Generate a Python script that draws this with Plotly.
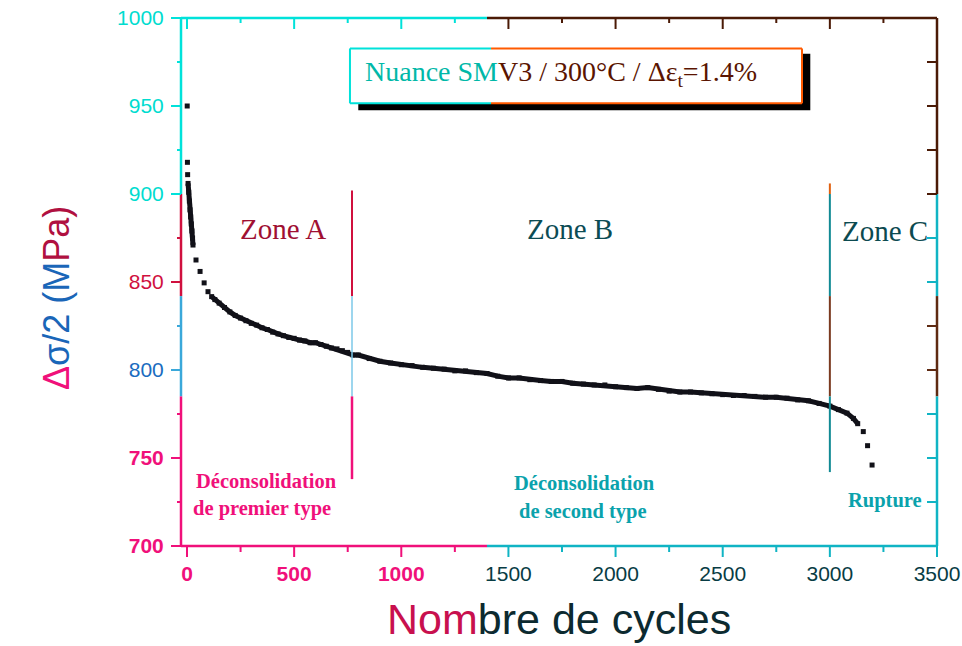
import plotly.graph_objects as go

# ---------------- data ----------------
start_x = [1, 2, 3]
start_y = [950, 918, 911]

early_x = [5, 8, 11, 14, 17, 20, 23, 26, 28]
early_y = [906, 901, 896, 891, 887, 883, 879, 875, 871]

sparse_x = [42, 61, 80, 98]
sparse_y = [862.5, 856, 849.5, 844.5]

main_x = [115, 130, 150, 175, 200, 225, 250, 275, 300, 325, 350, 375, 400, 425, 450,
          475, 500, 525, 550, 575, 600, 625, 650, 675, 700, 725, 750, 775, 800, 850,
          900, 950, 1000, 1050, 1100, 1150, 1200, 1250, 1300, 1350, 1400, 1450, 1500,
          1550, 1600, 1650, 1700, 1750, 1800, 1850, 1900, 1950, 2000, 2050, 2100, 2150,
          2200, 2250, 2300, 2350, 2400, 2450, 2500, 2550, 2600, 2650, 2700, 2750, 2800,
          2850, 2900, 2950, 3000, 3040, 3080, 3110, 3130]
main_y = [841.7, 840, 838, 835.5, 833, 831, 829.5, 828, 826.5, 825.5, 824, 823, 821.5,
          820.5, 819.5, 818.5, 818, 817, 816.5, 815.5, 815.5, 814.5, 813.5, 812.5, 812,
          811, 810, 808.5, 808.5, 806.5, 805, 804, 803, 802.5, 801.5, 801, 800.5, 799.5,
          799.5, 798.5, 798, 796.5, 795.5, 795.5, 794.5, 794, 793.5, 793.5, 792.5, 792,
          791.5, 791.5, 790.5, 790, 789.5, 790, 789, 788, 787.5, 787.5, 787, 786.5, 786,
          785.5, 785.5, 785, 784.5, 784.5, 784, 783, 782.5, 781, 779.5, 777.5, 775.5,
          772.5, 769.5]

tail_x = [3156, 3176, 3197]
tail_y = [765, 757, 746]

x_ticks = [0, 500, 1000, 1500, 2000, 2500, 3000, 3500]
y_ticks = [700, 750, 800, 850, 900, 950, 1000]
x_minor = [250, 750, 1250, 1750, 2250, 2750, 3250]
y_minor = [725, 775, 825, 875, 925, 975]

zone_bounds = [770, 3000]
zone_names = ["Zone A", "Zone B", "Zone C"]
zone_label_x = [446, 1787, 3257]
zone_label_y = [880, 880, 879]

X_MIN, X_MAX = -28, 3500
Y_MIN, Y_MAX = 700, 1000

# colours
CYAN = "#00e2da"
CRIMSON = "#d0103e"
LBLUE = "#3aa8da"
MAGENTA = "#f0107a"
TEAL = "#10b4c4"
DARK = "#4a1a06"
BROWN = "#5e2a12"
BLACK = "#111118"

BAND_Y = [900, 842, 785]   # horizontal colour-band limits
BAND_X = 1400              # vertical colour-band limit

shapes = []


def fx(v):
    return (v - X_MIN) / (X_MAX - X_MIN)


def fy(v):
    return (v - Y_MIN) / (Y_MAX - Y_MIN)


def seg(x0, y0, x1, y1, color, width=2.5):
    shapes.append(dict(type="line", xref="x domain", yref="y domain",
                       x0=fx(x0), y0=fy(y0), x1=fx(x1), y1=fy(y1),
                       line=dict(color=color, width=width), layer="above"))


def ytick(xpos, v, length, color, width=2):
    shapes.append(dict(type="line", xref="x domain", yref="y domain", xsizemode="pixel",
                       xanchor=fx(xpos), x0=0, x1=length, y0=fy(v), y1=fy(v),
                       line=dict(color=color, width=width), layer="above"))


def xtick(ypos, v, length, color, width=2):
    shapes.append(dict(type="line", xref="x domain", yref="y domain", ysizemode="pixel",
                       yanchor=fy(ypos), y0=0, y1=length, x0=fx(v), x1=fx(v),
                       line=dict(color=color, width=width), layer="above"))


def band_color(v, cols):
    if v >= BAND_Y[0]:
        return cols[0]
    if v >= BAND_Y[1]:
        return cols[1]
    if v >= BAND_Y[2]:
        return cols[2]
    return cols[3]


left_cols = [CYAN, CRIMSON, LBLUE, MAGENTA]
right_cols = [DARK, TEAL, BROWN, TEAL]

lim = [Y_MAX] + BAND_Y + [Y_MIN]
for i in range(4):
    seg(X_MIN, lim[i], X_MIN, lim[i + 1], left_cols[i])
    seg(X_MAX, lim[i], X_MAX, lim[i + 1], right_cols[i])
for v in y_ticks:
    ytick(X_MIN, v, -10, band_color(v, left_cols))
for v in y_minor:
    ytick(X_MIN, v, -4, band_color(v, left_cols))
for v in y_ticks + y_minor:
    ytick(X_MAX, v, -10, band_color(v, right_cols))

seg(X_MIN, Y_MIN, BAND_X, Y_MIN, MAGENTA)
seg(BAND_X, Y_MIN, X_MAX, Y_MIN, TEAL)
seg(X_MIN, Y_MAX, BAND_X, Y_MAX, CYAN)
seg(BAND_X, Y_MAX, X_MAX, Y_MAX, DARK)
for v in x_ticks:
    xtick(Y_MIN, v, -11, MAGENTA if v < BAND_X else TEAL)
    xtick(Y_MAX, v, -11, CYAN if v < BAND_X else DARK)
for v in x_minor:
    xtick(Y_MIN, v, -6, MAGENTA if v < BAND_X else TEAL)
    xtick(Y_MAX, v, -5, CYAN if v < BAND_X else DARK)

# zone boundary lines
zA = zone_bounds[0]
seg(zA, 902, zA, BAND_Y[1], CRIMSON, 2)
seg(zA, BAND_Y[1], zA, BAND_Y[2], "#7cc8e8", 1.5)
seg(zA, BAND_Y[2], zA, 738, MAGENTA, 2.5)
zC = zone_bounds[1]
seg(zC, 906, zC, BAND_Y[0], "#e06010", 2)
seg(zC, BAND_Y[0], zC, BAND_Y[1], "#128a94", 2)
seg(zC, BAND_Y[1], zC, BAND_Y[2], "#7a3a20", 2)
seg(zC, BAND_Y[2], zC, 742, "#128a94", 2)

# title box (paper coords)
bx0, bx1, by0, by1, bmid = 0.2235, 0.8214, 0.8384, 0.9423, 0.4101
shapes.append(dict(type="rect", xref="paper", yref="paper", x0=bx0 + 0.011, x1=bx1 + 0.011,
                    y0=by0 - 0.013, y1=by1 - 0.010, fillcolor="#000000", line=dict(width=0),
                    layer="above"))
shapes.append(dict(type="rect", xref="paper", yref="paper", x0=bx0, x1=bx1, y0=by0, y1=by1,
                    fillcolor="white", line=dict(width=0), layer="above"))
for (a, b, c, d, col) in [(bx0, by0, bx0, by1, CYAN), (bx0, by1, bmid, by1, CYAN),
                          (bx0, by0, bmid, by0, CYAN), (bmid, by1, bx1, by1, "#ff5a00"),
                          (bmid, by0, bx1, by0, "#ff5a00"), (bx1, by0, bx1, by1, "#ff5a00")]:
    shapes.append(dict(type="line", xref="paper", yref="paper", x0=a, y0=b, x1=c, y1=d,
                       line=dict(color=col, width=2), layer="above"))

fig = go.Figure()

line_x = early_x + [None] + main_x
line_y = early_y + [None] + main_y
fig.add_trace(go.Scatter(x=line_x, y=line_y, mode="lines", connectgaps=False,
                         line=dict(color=BLACK, width=5), hoverinfo="skip", showlegend=False))
fig.add_trace(go.Scatter(x=start_x + early_x + sparse_x + main_x + tail_x,
                         y=start_y + early_y + sparse_y + main_y + tail_y,
                         mode="markers", marker=dict(symbol="square", size=5, color=BLACK),
                         showlegend=False))

annotations = []
zone_colors = ["#a01032", "#0c4c54", "#0c4a50"]
for name, xv, yv, col in zip(zone_names, zone_label_x, zone_label_y, zone_colors):
    annotations.append(dict(x=xv, y=yv, xref="x", yref="y", text=name, showarrow=False,
                            font=dict(family="Liberation Serif", size=29, color=col)))

serif_b = dict(family="Liberation Serif", size=20.5)
texts = [
    (369, 737.2, "<b>Déconsolidation</b>", MAGENTA),
    (350, 721.3, "<b>de premier type</b>", MAGENTA),
    (1853, 736, "<b>Déconsolidation</b>", "#0aa2ac"),
    (1848, 719.6, "<b>de second type</b>", "#0aa2ac"),
    (3255, 725.8, "<b>Rupture</b>", "#0aa2ac"),
]
for xv, yv, t, col in texts:
    annotations.append(dict(x=xv, y=yv, xref="x", yref="y", text=t, showarrow=False,
                            font=dict(serif_b, color=col)))

annotations.append(dict(
    x=0.5026, y=0.894, xref="paper", yref="paper", showarrow=False,
    xanchor="center", yanchor="middle",
    text=("<span style='color:#00b8a8'>Nuance SM</span>"
          "<span style='color:#5a1400'>V3 / 300°C / Δε<sub>t</sub>=1.4%</span>"),
    font=dict(family="Liberation Serif", size=28)))

# axis titles
annotations.append(dict(
    x=-0.164, y=0.4698, xref="paper", yref="paper", showarrow=False, textangle=-90,
    xanchor="center", yanchor="middle",
    text=("<span style='color:#f0107a'>Δ</span><span style='color:#1a66b8'>σ/2 (M</span>"
          "<span style='color:#b01040'>Pa)</span>"),
    font=dict(family="Liberation Sans", size=36)))
annotations.append(dict(
    x=0.5, y=-0.139, xref="paper", yref="paper", showarrow=False,
    xanchor="center", yanchor="middle",
    text=("<span style='color:#c8104e'>Nom</span><span style='color:#0c2a30'>bre de cycles</span>"),
    font=dict(family="Liberation Sans", size=43)))


def ycol(v):
    return band_color(v, ["#00dccf", "#d0103e", "#1a6cc0", MAGENTA])


ytext = []
for v in y_ticks:
    t = str(v)
    if v < BAND_Y[2]:
        t = "<b>" + t + "</b>"
    ytext.append("<span style='color:%s'>%s</span>" % (ycol(v), t))
xtext = []
for v in x_ticks:
    if v < BAND_X:
        xtext.append("<span style='color:%s'><b>%d</b></span>" % (MAGENTA, v))
    else:
        xtext.append("<span style='color:#083c44'>%d</span>" % v)

fig.update_layout(
    width=962, height=646,
    margin=dict(l=181, r=25, t=17.5, b=99.5),
    paper_bgcolor="white", plot_bgcolor="white",
    showlegend=False,
    shapes=shapes,
    annotations=annotations,
    xaxis=dict(range=[X_MIN, X_MAX], showgrid=False, zeroline=False, showline=False,
               automargin=False, ticklabeloverflow="allow",
               tickvals=x_ticks, ticktext=xtext, ticks="outside", ticklen=9,
               tickcolor="rgba(0,0,0,0)",
               tickfont=dict(family="Liberation Sans", size=21)),
    yaxis=dict(range=[Y_MIN, Y_MAX], showgrid=False, zeroline=False, showline=False,
               automargin=False, ticklabeloverflow="allow",
               tickvals=y_ticks, ticktext=ytext, ticks="outside", ticklen=12,
               tickcolor="rgba(0,0,0,0)",
               tickfont=dict(family="Liberation Sans", size=21)),
)

# remove the browser's default 8 px body margin so the figure fills the window
fig.write_html("out.html", config={"displayModeBar": False},
               post_script="document.body.style.margin='0';document.body.style.overflow='hidden';")
